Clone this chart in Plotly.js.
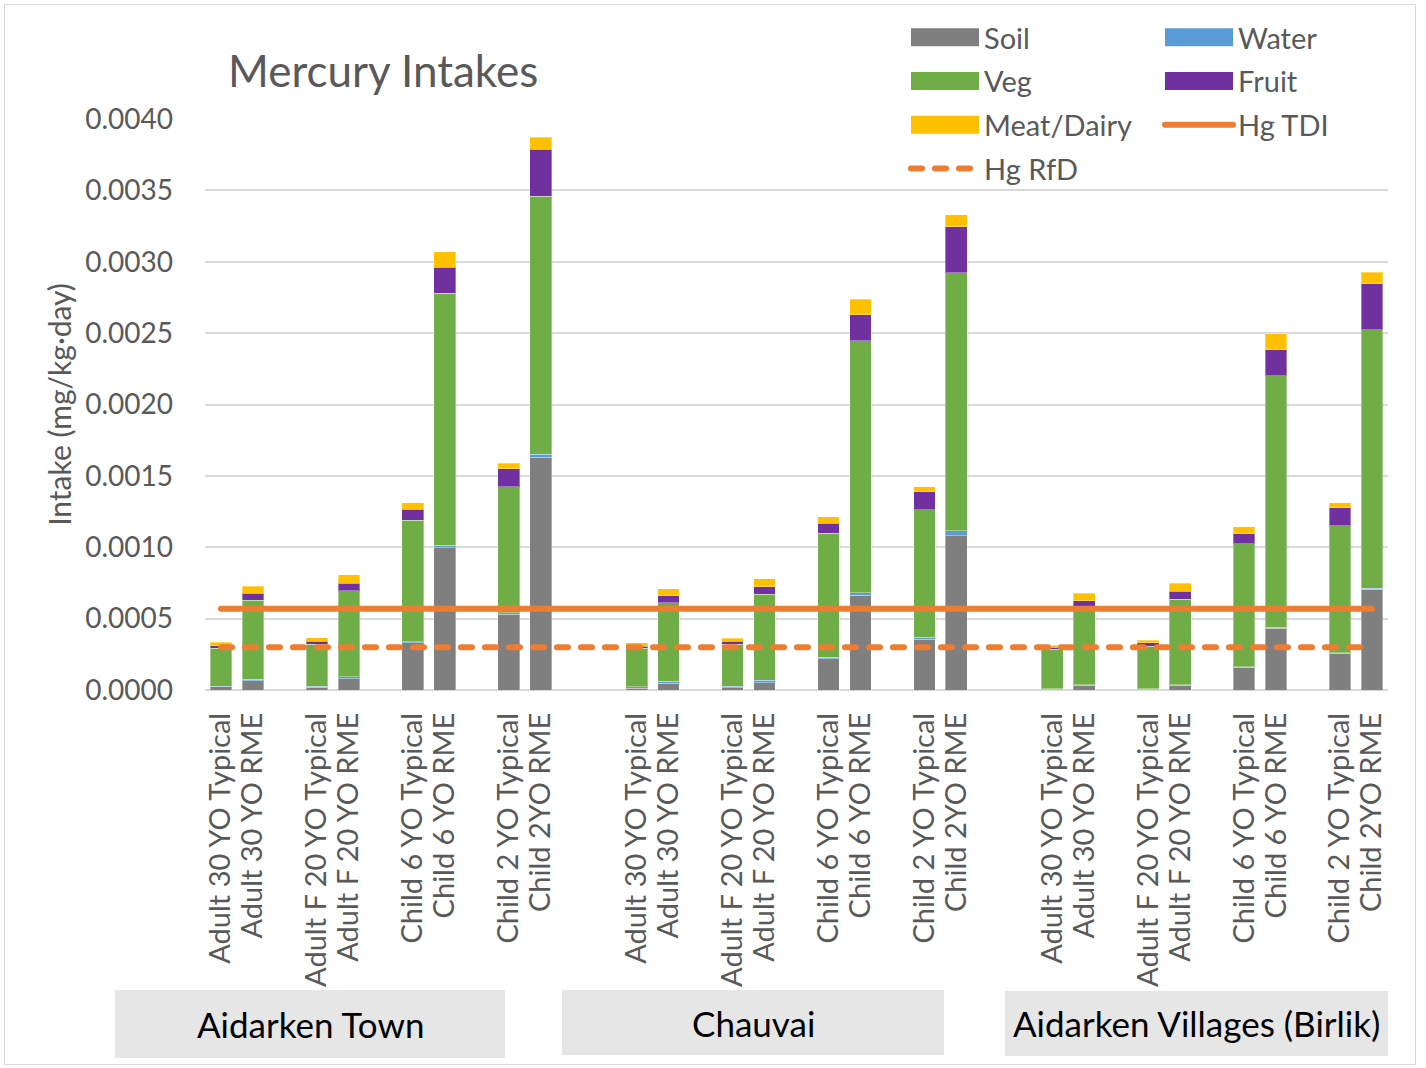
<!DOCTYPE html>
<html>
<head>
<meta charset="utf-8">
<script src="https://cdn.plot.ly/plotly-3.0.1.min.js"></script>
<style>
  html, body { margin: 0; padding: 0; background: #fff; }
  #wrap { position: relative; width: 1426px; height: 1068px; }
  #chart { width: 1426px; height: 1068px; }
  #frame { position: absolute; left: 4px; top: 4px; width: 1412px; height: 1061px;
           border: 1.5px solid #d9d9d9; pointer-events: none; box-sizing: border-box; }
  .scatterlayer .js-line { stroke-linecap: round; }
  .infolayer path.js-line[style*="stroke-width: 10px"] { stroke-width: 18px !important; }
  .infolayer path.js-line[style*="stroke-width: 6px"] { stroke-linecap: round; }
</style>
</head>
<body>
<div id="wrap"><div id="chart"></div><div id="frame"></div></div>
<script>
// ---- data ----
const groups = ["Aidarken Town", "Chauvai", "Aidarken Villages (Birlik)"];
const barLabels = [
  "Adult 30 YO Typical", "Adult 30 YO RME",
  "Adult F 20 YO Typical", "Adult F 20 YO RME",
  "Child 6 YO Typical", "Child 6 YO RME",
  "Child 2 YO Typical", "Child 2YO RME"
];
// values per bar, 8 bars per group, 3 groups (mg/kg-day)
const soil = [
  0.000023, 0.000065, 0.000019, 0.000079, 0.000332, 0.000997, 0.000530, 0.001630,
  0.000012, 0.000047, 0.000016, 0.000051, 0.000219, 0.000663, 0.000355, 0.001081,
  0.000005, 0.000033, 0.000005, 0.000033, 0.000159, 0.000432, 0.000257, 0.000705
];
const water = [
  0.000005, 0.000010, 0.000009, 0.000014, 0.000005, 0.000016, 0.000012, 0.000023,
  0.000011, 0.000016, 0.000010, 0.000019, 0.000012, 0.000019, 0.000016, 0.000033,
  0.000005, 0.000005, 0.000004, 0.000005, 0.000004, 0.000007, 0.000005, 0.000007
];
const veg = [
  0.000264, 0.000555, 0.000294, 0.000601, 0.000853, 0.001766, 0.000882, 0.001807,
  0.000269, 0.000549, 0.000296, 0.000602, 0.000867, 0.001765, 0.000890, 0.001809,
  0.000275, 0.000546, 0.000299, 0.000599, 0.000862, 0.001763, 0.000887, 0.001810
];
const fruit = [
  0.000018, 0.000047, 0.000021, 0.000053, 0.000076, 0.000182, 0.000126, 0.000328,
  0.000016, 0.000047, 0.000019, 0.000052, 0.000070, 0.000182, 0.000128, 0.000323,
  0.000014, 0.000042, 0.000023, 0.000056, 0.000070, 0.000182, 0.000128, 0.000324
];
const meat = [
  0.000024, 0.000051, 0.000023, 0.000059, 0.000046, 0.000109, 0.000038, 0.000084,
  0.000023, 0.000049, 0.000023, 0.000056, 0.000044, 0.000110, 0.000035, 0.000084,
  0.000016, 0.000051, 0.000019, 0.000054, 0.000049, 0.000112, 0.000035, 0.000082
];
const hgTDI = 0.00057;
const hgRfD = 0.0003;
const yTicks = [0, 0.0005, 0.001, 0.0015, 0.002, 0.0025, 0.003, 0.0035, 0.004];

// ---- layout of slots: pairs separated by one blank slot, groups by two ----
const xs = [], labels = [];
groups.forEach((g, gi) => {
  barLabels.forEach((lab, bi) => {
    const pair = Math.floor(bi / 2), m = bi % 2;
    xs.push(gi * 13 + pair * 3 + m);
    labels.push(lab);
  });
});

const colors = { soil: "#7f7f7f", water: "#5b9bd5", veg: "#70ad47", fruit: "#7030a0", meat: "#ffc000", line: "#ed7d31" };
const barLine = { color: "rgba(255,255,255,0.35)", width: 1 };
function bar(name, y, color) {
  return { type: "bar", name, x: xs, y, width: 0.68, marker: { color, line: barLine },
           showlegend: false, hoverinfo: "name+y" };
}
function legendBox(name, color, legend) {
  return { type: "scatter", mode: "lines", name, x: [null], y: [null],
           line: { color, width: 10 }, legend, legendgroup: name, hoverinfo: "skip" };
}
const tdiY = xs.map(() => hgTDI);
const rfdY = xs.map(() => hgRfD);

const data = [
  bar("Soil", soil, colors.soil),
  bar("Water", water, colors.water),
  bar("Veg", veg, colors.veg),
  bar("Fruit", fruit, colors.fruit),
  bar("Meat/Dairy", meat, colors.meat),
  { type: "scatter", mode: "lines", name: "Hg TDI", x: xs, y: tdiY,
    line: { color: colors.line, width: 6 }, legend: "legend2", legendgroup: "tdi" },
  { type: "scatter", mode: "lines", name: "Hg RfD", x: xs, y: rfdY,
    line: { color: colors.line, width: 6, dash: "11px,13px" }, legend: "legend", legendgroup: "rfd" },
  legendBox("Soil", colors.soil, "legend"),
  legendBox("Veg", colors.veg, "legend"),
  legendBox("Meat/Dairy", colors.meat, "legend"),
  legendBox("Water", colors.water, "legend2"),
  legendBox("Fruit", colors.fruit, "legend2")
];
// reorder so legend entries read top-down in each column
const order = [0,1,2,3,4,7,8,9,6,10,11,5];
const traces = order.map(i => data[i]);

const L = 205, R = 1388, T = 119, B = 690;
const px = v => (v - L) / (R - L);
const py = v => (B - v) / (B - T);

const boxes = [
  { x0: 115, x1: 505, y0: 990, y1: 1058 },
  { x0: 562, x1: 944, y0: 990, y1: 1055 },
  { x0: 1005, x1: 1388, y0: 991, y1: 1056 }
];
const shapes = boxes.map(b => ({ type: "rect", xref: "paper", yref: "paper",
  x0: px(b.x0), x1: px(b.x1), y0: py(b.y1), y1: py(b.y0),
  fillcolor: "#e7e6e6", line: { width: 0 }, layer: "below" }));
const annotations = groups.map((g, i) => ({ xref: "paper", yref: "paper",
  x: px((boxes[i].x0 + boxes[i].x1) / 2), y: py((boxes[i].y0 + boxes[i].y1) / 2),
  text: g, showarrow: false, xanchor: "center", yanchor: "middle",
  font: { family: "Lato, sans-serif", size: 35, color: "#000" } }));

const legendCommon = { orientation: "v", xanchor: "left", yanchor: "top", bgcolor: "rgba(0,0,0,0)",
  font: { family: "Lato, sans-serif", size: 29, color: "#595959" }, itemwidth: 68,
  traceorder: "grouped", tracegroupgap: 3, itemclick: false, itemdoubleclick: false };

const layout = {
  width: 1426, height: 1068,
  margin: { l: L, r: 1426 - R, t: T, b: 1068 - B },
  paper_bgcolor: "#fff", plot_bgcolor: "#fff",
  font: { family: "Lato, sans-serif", color: "#595959" },
  title: { text: "Mercury Intakes", x: px(228), xanchor: "left", xref: "paper",
           y: 1 - 72 / 1068, yref: "container", yanchor: "middle",
           font: { family: "Lato, sans-serif", size: 44, color: "#595959" } },
  barmode: "stack",
  xaxis: { range: [-0.5, 36.5], tickvals: xs, ticktext: labels, tickangle: -90,
           ticks: "", showgrid: false, zeroline: false, showline: false,
           tickfont: { family: "Lato, sans-serif", size: 29, color: "#595959" },
           ticklabelstandoff: 16, fixedrange: true },
  yaxis: { range: [0, 0.004], tickvals: yTicks, tickformat: ".4f",
           showgrid: true, gridcolor: "#d9d9d9", gridwidth: 2,
           zeroline: true, zerolinecolor: "#d9d9d9", zerolinewidth: 2, showline: false, ticks: "",
           tickfont: { family: "Lato, sans-serif", size: 28, color: "#595959" },
           ticklabelstandoff: 31,
           title: { text: "Intake (mg/kg·day)", standoff: 4,
                    font: { family: "Lato, sans-serif", size: 30, color: "#595959" } },
           fixedrange: true },
  legend: Object.assign({ x: px(906), y: py(12) }, legendCommon),
  legend2: Object.assign({ x: px(1160), y: py(12) }, legendCommon),
  shapes, annotations,
  showlegend: true
};

Plotly.newPlot("chart", traces, layout, { displayModeBar: false });
</script>
</body>
</html>
